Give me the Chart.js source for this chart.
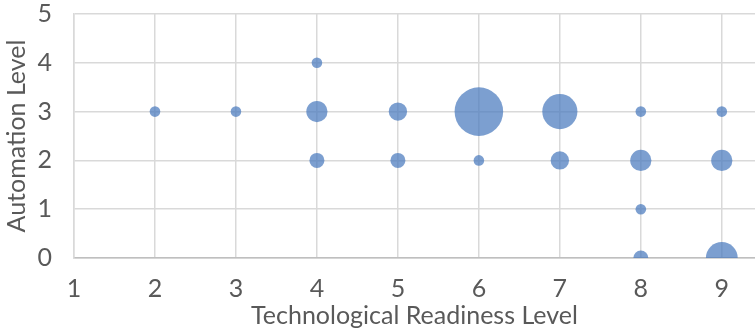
<!DOCTYPE html>
<html>
<head>
<meta charset="utf-8">
<script src="https://cdn.jsdelivr.net/npm/chart.js@4.4.0/dist/chart.umd.min.js"></script>
<style>
  html, body { margin: 0; padding: 0; background: #fff; overflow: hidden; }
  #wrap { width: 755px; height: 332px; }
</style>
</head>
<body>
<div id="wrap"><canvas id="bubbleChart"></canvas></div>
<script>
// one entry per bubble
const trlLevels        = [2, 3, 4, 4, 4, 5, 5, 6,  6, 7,  7, 8, 8, 8, 8, 9, 9, 9];
const automationLevels = [3, 3, 4, 3, 2, 3, 2, 3,  2, 3,  2, 3, 2, 1, 0, 3, 2, 0];
const bubbleSizes      = [1, 1, 1, 4, 2, 3, 2, 21, 1, 11, 3, 1, 4, 1, 2, 1, 4, 9];

const xTicks = [1, 2, 3, 4, 5, 6, 7, 8, 9];
const yTicks = [0, 1, 2, 3, 4, 5];

const labelFont = { family: 'Lato', size: 25 };
const textColor = '#595959';

const points = trlLevels.map((x, i) => ({
    x: x,
    y: automationLevels[i],
    r: 5.3 * Math.sqrt(bubbleSizes[i])
}));

const bubbleChart = document.getElementById('bubbleChart');

new Chart(bubbleChart, {
    type: 'bubble',
    data: {
        datasets: [{
            data: points,
            backgroundColor: 'rgba(74, 122, 190, 0.72)',
            borderWidth: 0,
            clip: 0
        }]
    },
    options: {
        responsive: true,
        maintainAspectRatio: false,
        animation: false,
        layout: { autoPadding: false, padding: { left: 0, top: 14, right: 0, bottom: 0 } },
        plugins: {
            legend: { display: false },
            tooltip: { enabled: false }
        },
        scales: {
            x: {
                type: 'linear',
                min: 1,
                max: 9.41,
                afterBuildTicks: axis => { axis.ticks = xTicks.map(v => ({ value: v })); },
                afterFit: axis => {
                    axis.height = 74;
                    axis.paddingLeft = 0;
                    axis.paddingRight = 0;
                },
                grid: { color: '#d9d9d9', lineWidth: 1.5, drawTicks: false },
                border: { color: '#bfbfbf', width: 1.5 },
                ticks: { font: labelFont, color: textColor, padding: 16 },
                title: {
                    display: true,
                    text: 'Technological Readiness Level',
                    font: labelFont,
                    color: textColor,
                    padding: { top: 0, bottom: 1 }
                }
            },
            y: {
                type: 'linear',
                min: 0,
                max: 5,
                afterBuildTicks: axis => { axis.ticks = yTicks.map(v => ({ value: v })); },
                afterFit: axis => {
                    axis.width = 74;
                    axis.paddingTop = 0;
                    axis.paddingBottom = 0;
                },
                grid: { color: '#d9d9d9', lineWidth: 1.5, drawTicks: false },
                border: { color: '#d9d9d9', width: 1.5 },
                ticks: { font: labelFont, color: textColor, padding: 22 },
                title: {
                    display: true,
                    text: 'Automation Level',
                    font: labelFont,
                    color: textColor,
                    padding: { top: 2, bottom: 0 }
                }
            }
        }
    }
});
</script>
</body>
</html>
